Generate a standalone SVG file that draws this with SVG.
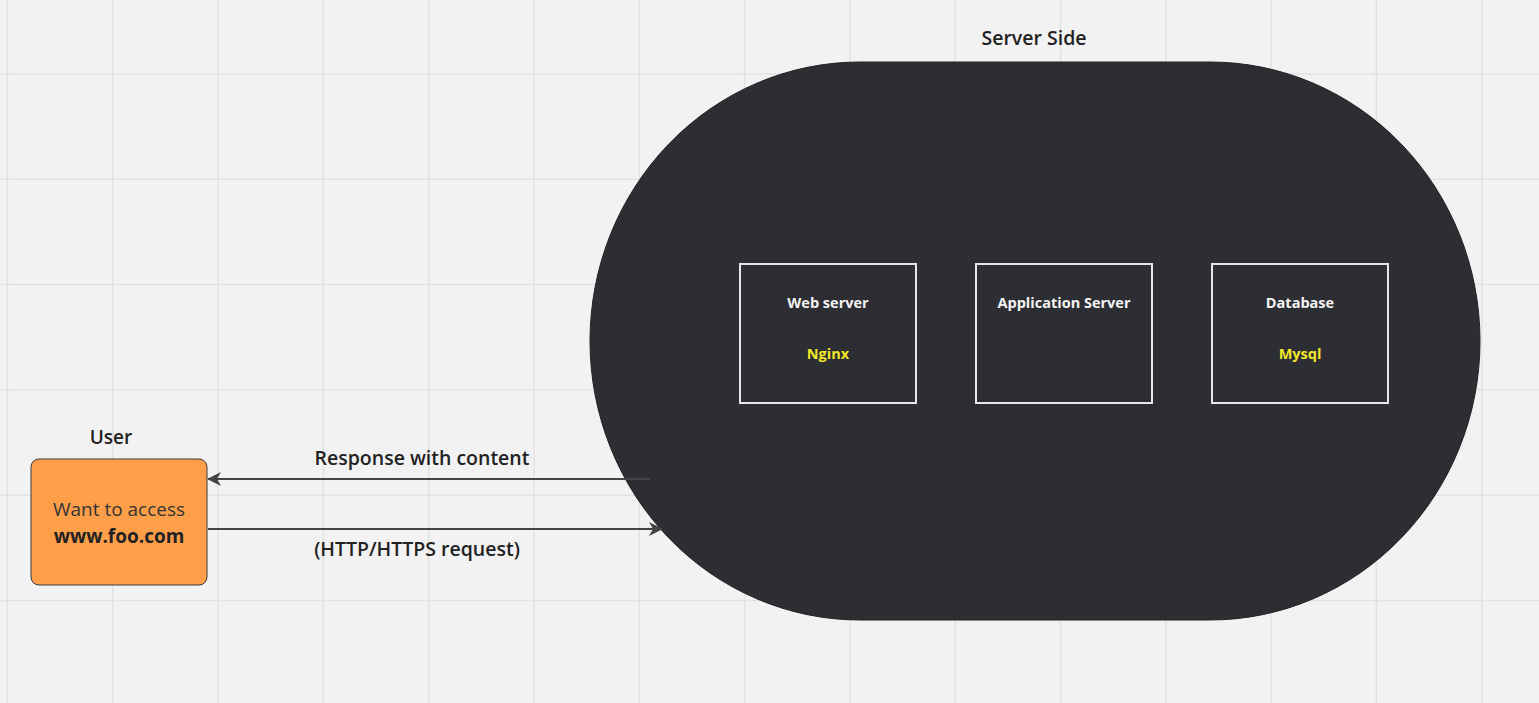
<svg xmlns="http://www.w3.org/2000/svg" width="1539" height="703" viewBox="0 0 1539 703">
<defs>
<style>
.grid{stroke:#e2e2e2;stroke-width:1.5;fill:none}
.lbl{font-family:"Open Sans","Noto Sans",sans-serif;font-weight:600;font-size:19px;fill:#222;text-anchor:middle}
.clbl{font-family:"Open Sans","Noto Sans",sans-serif;font-weight:600;font-size:19.5px;fill:#222;text-anchor:middle}
.box{fill:none;stroke:#e8e8e8;stroke-width:2}
.title{font-family:"Open Sans","Noto Sans",sans-serif;font-weight:700;font-size:14.5px;fill:#f4f4f4;text-anchor:middle}
.sub{font-family:"Open Sans","Noto Sans",sans-serif;font-weight:700;font-size:14.5px;fill:#f2e62a;text-anchor:middle}
.conn{stroke:#444;stroke-width:2;fill:none}
</style>
<marker id="arr" viewBox="0 0 14 14" refX="13" refY="7" markerWidth="14" markerHeight="14" markerUnits="userSpaceOnUse" orient="auto-start-reverse">
<path d="M0,0 L14,7 L0,14 L4,7 Z" fill="#444"/>
</marker>
</defs>
<rect width="1539" height="703" fill="#f2f2f2"/>
<path class="grid" d="M7.5,0V703M112.8,0V703M218.1,0V703M323.4,0V703M428.7,0V703M534,0V703M639.3,0V703M744.6,0V703M849.9,0V703M955.2,0V703M1060.5,0V703M1165.8,0V703M1271.1,0V703M1376.4,0V703M1481.7,0V703M0,74H1539M0,179.3H1539M0,284.6H1539M0,389.9H1539M0,495.2H1539M0,600.5H1539"/>

<g id="server-side">
<rect x="590" y="62" width="890" height="558" rx="270" ry="279" fill="#2d2e33" stroke="#222" stroke-width="1"/>
<text class="clbl" x="1034" y="45">Server Side</text>
</g>

<g id="web-server">
<rect class="box" x="740" y="264" width="176" height="139"/>
<text class="title" x="828" y="308">Web server</text>
<text class="sub" x="828" y="359">Nginx</text>
</g>

<g id="application-server">
<rect class="box" x="976" y="264" width="176" height="139"/>
<text class="title" x="1064" y="308">Application Server</text>
</g>

<g id="database">
<rect class="box" x="1212" y="264" width="176" height="139"/>
<text class="title" x="1300" y="308">Database</text>
<text class="sub" x="1300" y="359">Mysql</text>
</g>

<g id="user">
<text class="lbl" x="111" y="444">User</text>
<rect x="31" y="459" width="176" height="126" rx="8" ry="8" fill="#ff9f4a" stroke="#3a3a3a" stroke-width="1"/>
<text x="119" y="516" font-family="'Open Sans','Noto Sans',sans-serif" font-size="19" fill="#333" text-anchor="middle">Want to access</text>
<text x="119" y="542.5" font-family="'Open Sans','Noto Sans',sans-serif" font-size="19" font-weight="700" fill="#222" text-anchor="middle">www.foo.com</text>
</g>

<g id="connectors">
<line class="conn" x1="650" y1="479" x2="208" y2="479" marker-end="url(#arr)"/>
<line class="conn" x1="208" y1="529" x2="662" y2="529" marker-end="url(#arr)"/>
<text class="clbl" x="422" y="465">Response with content</text>
<text class="clbl" x="417" y="556">(HTTP/HTTPS request)</text>
</g>
</svg>
